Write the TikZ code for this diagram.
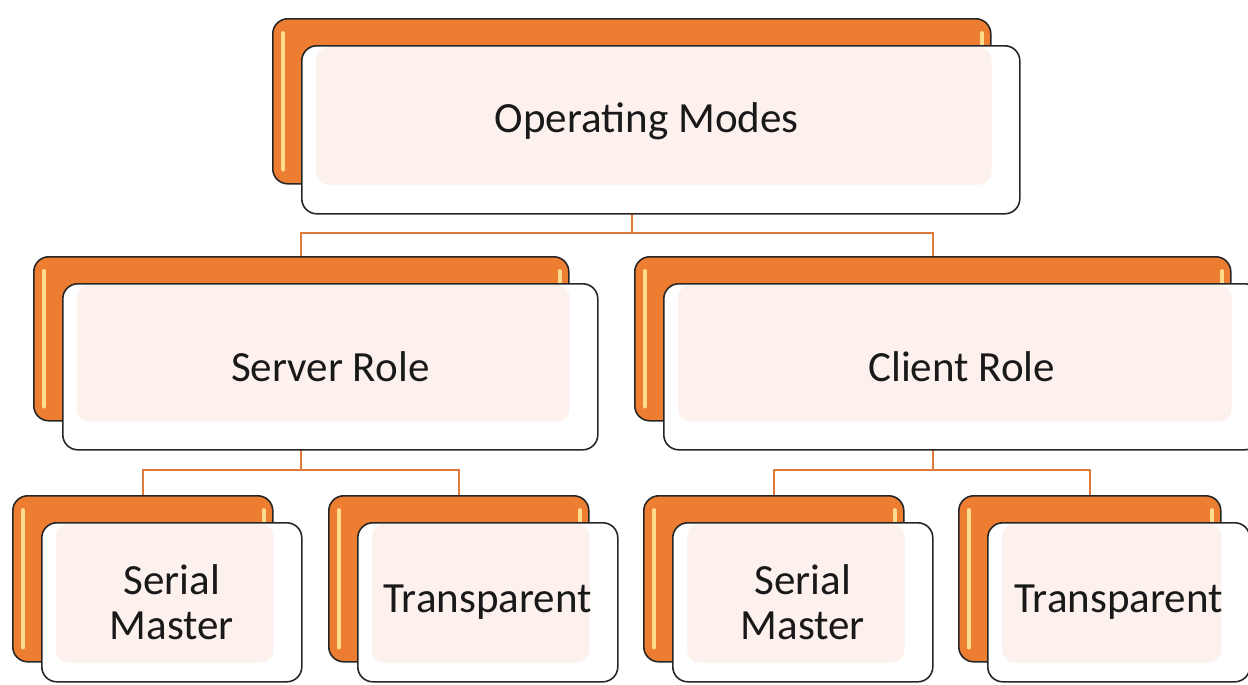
\documentclass[tikz,border=0pt]{standalone}
\usepackage{fontspec}
\setmainfont{Carlito}
\usepackage{tikz}
\usetikzlibrary{backgrounds}
\definecolor{modeorange}{HTML}{ED7D31}
\definecolor{modepeach}{HTML}{FCF1EC}
\definecolor{modegloss}{HTML}{FFDB8E}
\definecolor{linkorange}{HTML}{DE7A3C}
\definecolor{modeline}{HTML}{262626}
\newcommand{\px}{0.02cm}
\tikzset{
  backbox/.style={draw=modeline,fill=modeorange,line width=0.9pt,
    rounded corners=0.3cm,anchor=north west,inner sep=0pt},
  frontbox/.style={draw=modeline,fill=white,line width=0.9pt,
    rounded corners=0.3cm,anchor=north west,inner sep=0pt},
  gloss/.style={draw=modegloss,line width=2.2pt,line cap=round},
  modetext/.style={font=\fontsize{24.5}{25.5}\selectfont,align=center,
    text=black!90,inner sep=0pt},
  link/.style={draw=linkorange,line width=1.1pt},
  % the top label sits a little off centre
  op label/.style={shift={(-14,-9)}}
}
% #1 name, #2/#3 back corner, #4 width, #5 back height, #6 front height, #7 text
\newcommand{\modebox}[7]{%
  \node[backbox,minimum width=#4*\px,minimum height=#5*\px] (#1B) at (#2,#3) {};
  \draw[gloss] ([shift={(0.22cm,-0.3cm)}]#1B.north west)
    -- ([shift={(0.22cm,0.3cm)}]#1B.south west);
  \draw[gloss] ([shift={(-0.2cm,-0.3cm)}]#1B.north east)
    -- ([shift={(-0.2cm,0.3cm)}]#1B.south east);
  \node[frontbox,minimum width=#4*\px,minimum height=#6*\px]
    (#1) at ([shift={(29,27)}]#1B.north west) {};
  \fill[modepeach,rounded corners=0.25cm]
    ([shift={(0.3cm,-0.04cm)}]#1.north west) rectangle (#1B.south east);
  \node[modetext,#1 label/.try] (#1T) at (#1.center) {#7};
}
\begin{document}
\begin{tikzpicture}[x=0.02cm,y=-0.02cm]
  \useasboundingbox (0,0) rectangle (1248,684);
  % boxes
  \modebox{op}{272}{18}{718}{165}{168}{Operating Modes}
  \modebox{srv}{33}{256}{535}{164}{166}{Server Role}
  \modebox{cli}{634}{256}{596}{164}{166}{Client Role}
  \modebox{ssm}{12}{495}{260}{166}{159}{Serial\\Master}
  \modebox{str}{328}{495}{260}{166}{159}{Transparent}
  \modebox{csm}{643}{495}{260}{166}{159}{Serial\\Master}
  \modebox{ctr}{958}{495}{262}{166}{159}{Transparent}
  % tree links
  \begin{scope}[on background layer]
    \draw[link] (srvB.north) -- ++(0,-23) -| (opB.south);
    \draw[link] (cliB.north) -- ++(0,-23) -| (opB.south);
    \draw[link] (ssmB.north) -- ++(0,-25) -| (srvB.south);
    \draw[link] (strB.north) -- ++(0,-25) -| (srvB.south);
    \draw[link] (csmB.north) -- ++(0,-25) -| (cliB.south);
    \draw[link] (ctrB.north) -- ++(0,-25) -| (cliB.south);
  \end{scope}
\end{tikzpicture}
\end{document}
